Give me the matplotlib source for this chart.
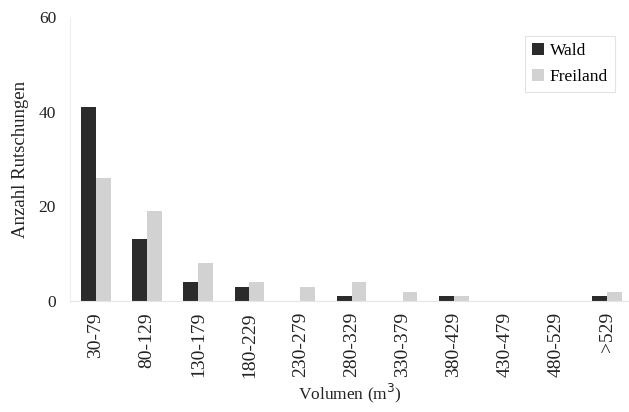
import numpy as np
import matplotlib.pyplot as plt

# Volumenklassen und Anzahl Rutschungen
klassen = ['30-79', '80-129', '130-179', '180-229', '230-279', '280-329',
           '330-379', '380-429', '430-479', '480-529', '>529']
wald = [41, 13, 4, 3, 0, 1, 0, 1, 0, 0, 1]
freiland = [26, 19, 8, 4, 3, 4, 2, 1, 0, 0, 2]

plt.rcParams['font.family'] = ['Liberation Serif', 'DejaVu Serif']

fig = plt.figure(figsize=(6.29, 4.12), dpi=100)
ax = fig.add_axes([70 / 629, 111 / 412, 559 / 629, 284 / 412])

x = np.arange(len(klassen))
w = 0.29
ax.bar(x - w / 2, wald, width=w, color='#2b2b2b', label='Wald')
ax.bar(x + w / 2, freiland, width=w, color='#d2d2d2', label='Freiland')

ax.set_xlim(-0.51, 10.43)
ax.set_ylim(0, 60)
ax.set_yticks([0, 20, 40, 60])
ax.set_xticks(x)
ax.set_xticklabels(klassen, rotation=90)
ax.tick_params(axis='both', length=0, colors='#222222')
ax.tick_params(axis='y', labelsize=12.5, pad=10)
ax.tick_params(axis='x', labelsize=14, pad=8)

for s in ['top', 'right']:
    ax.spines[s].set_visible(False)
ax.spines['left'].set_color('#eeeeee')
ax.spines['bottom'].set_color('#e6e6e6')

ax.set_ylabel('Anzahl Rutschungen', fontsize=13.5, color='#222222', labelpad=7)
ax.set_xlabel('Volumen (m$^3$)', fontsize=12.5, color='#222222', labelpad=3)

leg = ax.legend(loc='upper right', bbox_to_anchor=(0.99, 0.965), fontsize=12.5,
                handlelength=0.7, handleheight=0.7, handletextpad=0.3,
                fancybox=False, edgecolor='#dddddd', borderpad=0.4,
                labelspacing=0.6)
leg.get_frame().set_linewidth(0.8)

fig.savefig('out.png', dpi=100)
